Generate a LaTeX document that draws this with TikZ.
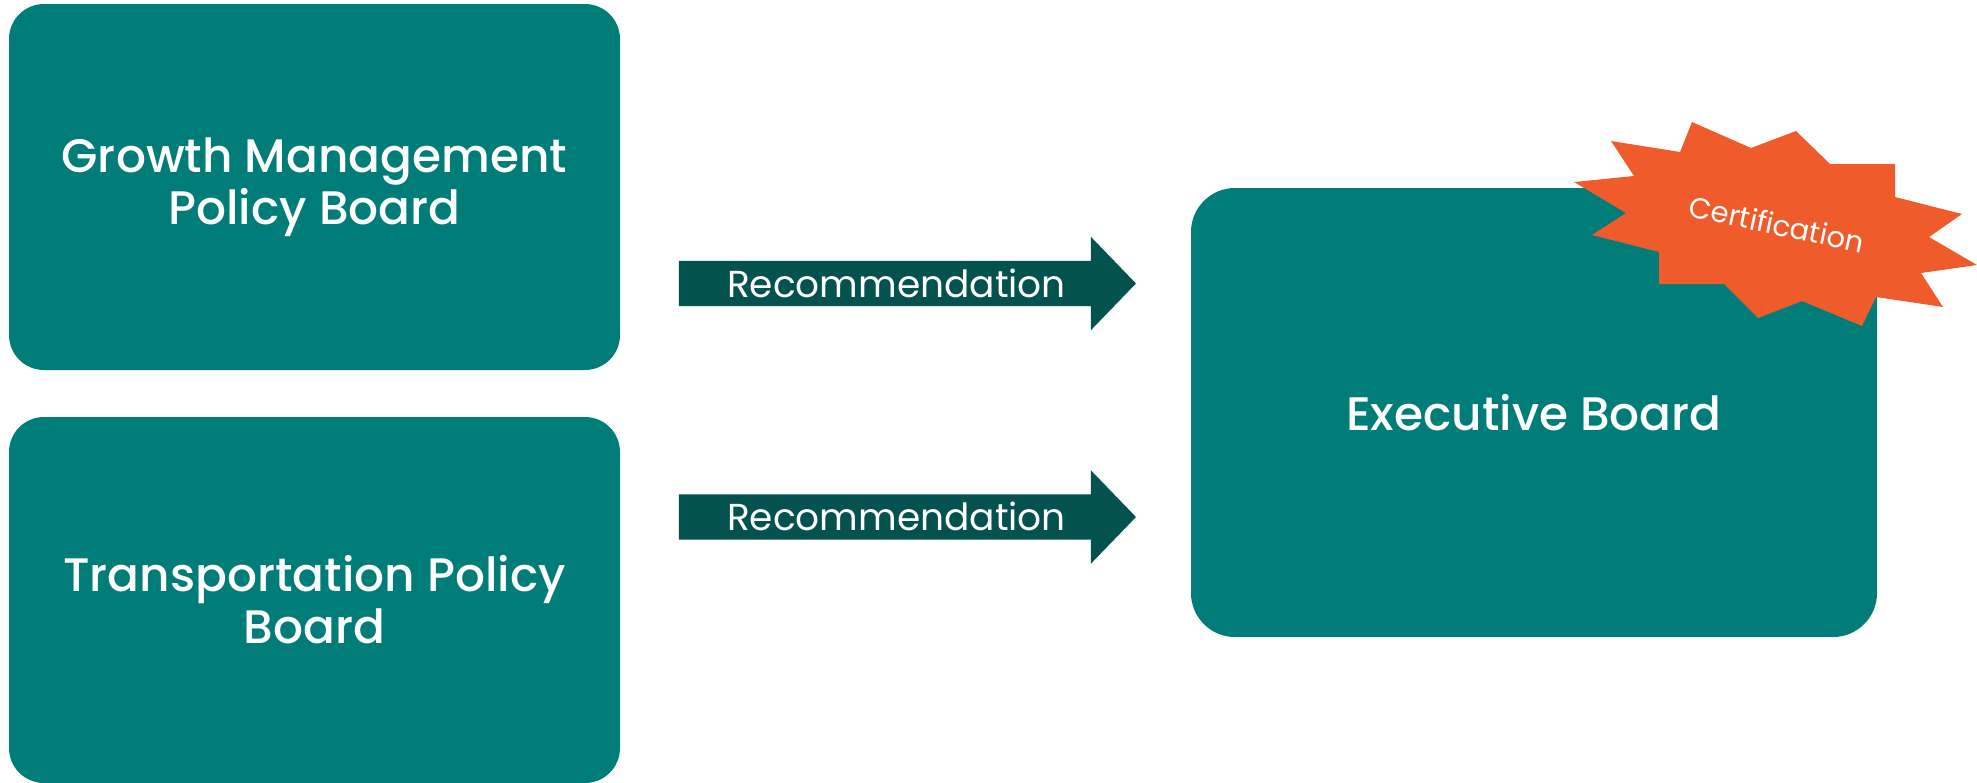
\documentclass[tikz,border=0pt]{standalone}
\usepackage{fontspec}
\setmainfont{Poppins}
\newfontfamily\boardfont{Poppins Medium}
\usetikzlibrary{shapes.arrows}
\definecolor{boardteal}{RGB}{0,125,120}
\definecolor{arrowteal}{RGB}{3,82,79}
\definecolor{certorange}{RGB}{240,91,44}

\begin{document}
\begin{tikzpicture}[
        x=1pt, y=-1pt,
        board/.style={fill=boardteal,rounded corners=#1,text=white,align=center,inner sep=0pt,
            font=\boardfont\fontsize{47}{52}\selectfont},
        recarrow/.style={single arrow,fill=arrowteal,text=white,inner xsep=0pt,inner ysep=9pt,
            text height=27pt,text depth=0pt,minimum height=457pt,
            single arrow head extend=24pt,single arrow tip angle=92,
            font=\fontsize{37.5}{40}\selectfont}
    ]
        \useasboundingbox (0,0) rectangle (1977,782);

        \node [board=35pt,minimum width=611pt,minimum height=366pt] (growth) at (314.5,187) {Growth Management\\Policy Board};
        \node [board=35pt,minimum width=611pt,minimum height=366pt] (transport) at (314.5,600) {Transportation Policy\\Board};
        \node [board=44pt,minimum width=686pt,minimum height=449pt] (exec) at (1534,412.5) {Executive Board};

        \node [recarrow] (rec1) at (896.5,283.5) {Recommendation};
        \node [recarrow] (rec2) at (896.5,517) {Recommendation};

        % certification burst
        \fill [certorange] (1611,141) -- (1680,152) -- (1692,122) -- (1751,148) -- (1796,131) -- (1830,164)
            -- (1895,164) -- (1895,197) -- (1962,214) -- (1929,237) -- (1977,265) -- (1921,273)
            -- (1943,307) -- (1876,297) -- (1862,326) -- (1802,301) -- (1758,318) -- (1724,284)
            -- (1659,284) -- (1659,252) -- (1592,235) -- (1626,213) -- (1574,182) -- (1634,176) -- cycle;
        \node [rotate=-12,text=white,inner sep=0pt,font=\fontsize{29}{31}\selectfont] (cert) at (1777,224) {Certification};
    \end{tikzpicture}
\end{document}
